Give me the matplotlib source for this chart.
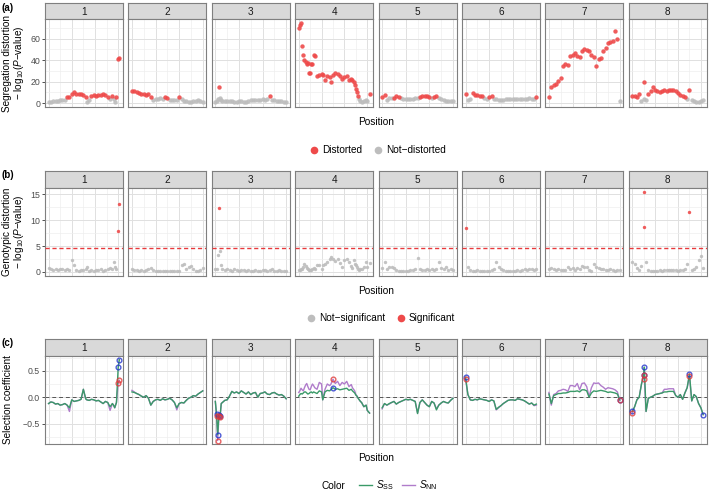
import matplotlib
matplotlib.use('Agg')
import numpy as np
import matplotlib.pyplot as plt
from matplotlib.lines import Line2D
from matplotlib.ticker import MultipleLocator

plt.rcParams['font.family'] = ['Liberation Sans', 'DejaVu Sans']
plt.rcParams['mathtext.fontset'] = 'custom'
plt.rcParams['mathtext.rm'] = 'Liberation Sans'
plt.rcParams['mathtext.it'] = 'Liberation Sans:italic'
plt.rcParams['mathtext.bf'] = 'Liberation Sans:bold'

# ---- data ----
chroms = [1, 2, 3, 4, 5, 6, 7, 8]

pos = {
    1: [0, 2, 4, 6, 8, 10, 12, 14, 16, 18, 20, 22, 24, 26, 28, 30, 32, 33, 35, 37, 39, 41, 43, 45, 47, 49, 51, 53, 55, 56, 57, 58.5, 60, 61],
    2: [0, 2, 4, 6, 8, 10, 12, 14, 16, 18, 20, 22, 24, 26, 28, 30, 32, 34, 36, 38, 40, 42, 44, 46, 48, 50, 52, 54, 56, 58, 60],
    3: [0, 1, 2, 3, 4, 5, 6, 8, 10, 12, 14, 16, 18, 20, 22, 24, 26, 28, 30, 32, 34, 36, 38, 40, 42, 44, 46, 48, 50, 52, 54, 56, 58, 60],
    4: [0, 1, 2, 3, 4, 5, 6, 7, 8, 9, 10, 11, 12, 13, 14, 16, 18, 20, 21, 23, 25, 27, 28, 30, 32, 34, 36, 38, 40, 42, 44, 46, 47, 48, 49, 50, 51, 52, 53, 54, 55, 57, 59, 60, 62],
    5: [0, 2, 4, 6, 8, 10, 12, 14, 16, 18, 20, 22, 24, 26, 28, 30, 32, 34, 36, 38, 40, 42, 44, 46, 48, 50, 52, 54, 56, 58, 60],
    6: [0, 2, 4, 6, 8, 10, 12, 14, 16, 18, 20, 22, 24, 26, 28, 30, 32, 34, 36, 38, 40, 42, 44, 46, 48, 50, 52, 54, 56, 58, 60],
    7: [0, 2, 4, 6, 8, 10, 12, 14, 16, 18, 20, 22, 24, 26, 28, 30, 32, 34, 36, 38, 40, 42, 44, 46, 48, 50, 52, 54, 56, 58, 60],
    8: [0, 2, 4, 6, 8, 10, 10.5, 12, 14, 16, 18, 20, 22, 24, 26, 28, 30, 32, 34, 36, 38, 40, 42, 44, 46, 48, 50, 52, 54, 56, 58, 60, 62],
}

# segregation distortion, -log10(P)
seg = {
    1: [1.0, 1.3, 1.6, 2.0, 2.3, 2.6, 2.8, 3.0, 5.2, 6.0, 8.5, 9.8, 8.6, 8.0, 8.3, 7.0, 5.5, 1.2, 2.5, 6.5, 7.0, 6.6, 7.2, 7.8, 8.2, 7.4, 6.0, 3.8, 6.2, 3.5, 0.5, 5.8, 41.0, 42.0],
    2: [10.8, 10.8, 10.0, 9.0, 8.3, 8.0, 7.4, 8.3, 5.9, 2.8, 3.5, 4.0, 4.2, 3.8, 5.2, 5.0, 3.0, 2.8, 3.2, 3.0, 5.9, 3.5, 1.5, 1.6, 1.4, 1.3, 1.5, 1.8, 2.4, 1.6, 1.2],
    3: [0.6, 2.0, 3.7, 14.5, 4.2, 3.0, 1.5, 2.0, 1.6, 2.2, 1.8, 1.2, 1.0, 1.5, 2.0, 1.4, 1.0, 1.8, 2.5, 2.8, 3.0, 2.6, 3.2, 3.4, 3.0, 3.5, 6.2, 3.0, 2.4, 2.0, 1.8, 1.5, 1.2, 1.0],
    4: [69.4, 72.5, 74.5, 53.0, 45.0, 40.0, 38.0, 36.7, 37.0, 28.4, 27.5, 36.0, 36.0, 44.7, 44.0, 25.4, 26.0, 27.0, 26.5, 21.3, 25.0, 24.0, 20.0, 25.8, 28.4, 27.0, 25.4, 22.5, 24.5, 25.0, 21.8, 22.5, 21.5, 19.1, 16.9, 12.9, 9.9, 6.8, 3.7, 1.5, 1.2, 1.5, 2.8, 1.5, 8.3],
    5: [5.9, 7.2, 3.0, 4.2, 4.5, 4.8, 6.8, 6.0, 4.5, 4.0, 3.8, 3.6, 3.8, 4.0, 4.2, 4.5, 6.0, 6.5, 6.3, 6.6, 5.5, 4.3, 5.2, 6.2, 4.3, 3.5, 2.8, 2.2, 1.8, 1.6, 1.5],
    6: [8.0, 2.8, 4.0, 9.0, 7.0, 7.5, 6.8, 6.5, 4.2, 3.5, 5.5, 6.5, 4.0, 3.5, 3.2, 3.0, 3.2, 3.4, 3.6, 3.8, 3.5, 3.7, 4.0, 3.6, 3.3, 3.5, 3.8, 4.2, 3.6, 4.0, 5.9],
    7: [5.2, 14.5, 16.5, 17.6, 20.5, 23.1, 34.5, 36.0, 35.5, 43.8, 44.7, 46.6, 43.5, 43.0, 48.5, 50.0, 49.5, 48.0, 45.0, 43.0, 34.5, 40.7, 41.5, 48.5, 50.9, 55.5, 56.5, 57.7, 66.9, 60.0, 1.5],
    8: [6.8, 6.5, 5.9, 8.3, 1.5, 20.0, 4.0, 2.8, 8.0, 11.0, 14.5, 12.5, 10.8, 9.9, 11.5, 12.0, 11.0, 12.5, 12.0, 12.0, 10.8, 9.0, 7.4, 6.2, 5.2, 3.5, 12.0, 2.5, 1.5, 1.0, 1.2, 1.8, 3.0],
}

# genotypic distortion, -log10(P)
geno = {
    1: [0.8, 0.6, 0.3, 0.5, 0.4, 0.6, 0.5, 0.3, 0.5, 0.4, 2.3, 1.3, 0.3, 0.2, 0.4, 0.3, 0.6, 1.0, 0.2, 0.3, 0.2, 0.4, 0.3, 0.5, 0.2, 0.4, 0.5, 0.8, 0.6, 2.0, 0.9, 0.5, 7.9, 13.2],
    2: [0.6, 0.4, 0.3, 0.2, 0.3, 0.2, 0.4, 0.5, 0.8, 0.3, 0.2, 0.1, 0.1, 0.1, 0.1, 0.1, 0.1, 0.1, 0.2, 0.1, 0.1, 1.4, 1.6, 0.6, 1.0, 1.1, 0.5, 0.2, 0.1, 0.3, 0.7],
    3: [0.5, 0.6, 3.3, 12.3, 4.0, 1.3, 0.6, 0.3, 0.5, 0.3, 0.2, 0.5, 0.4, 0.2, 0.3, 0.4, 0.2, 0.3, 0.1, 0.2, 0.3, 0.2, 0.1, 0.3, 0.4, 0.2, 0.3, 0.5, 0.2, 0.1, 0.3, 0.2, 0.1, 0.2],
    4: [0.3, 0.4, 0.5, 0.6, 1.0, 1.5, 1.2, 0.8, 0.5, 0.4, 0.3, 0.4, 0.6, 0.7, 0.5, 1.3, 1.4, 0.5, 1.3, 1.5, 2.0, 2.6, 2.9, 2.6, 2.2, 2.5, 1.8, 1.0, 2.3, 2.5, 1.9, 1.2, 0.8, 2.3, 1.6, 1.3, 1.0, 0.5, 0.4, 0.5, 0.6, 1.0, 1.9, 0.9, 1.8],
    5: [0.7, 1.9, 0.5, 0.9, 1.0, 0.8, 0.4, 0.2, 0.2, 0.1, 0.2, 0.2, 0.3, 0.4, 0.6, 2.7, 0.5, 0.3, 0.4, 0.6, 0.4, 0.5, 0.3, 0.5, 1.9, 0.8, 0.5, 0.9, 0.4, 0.6, 0.3],
    6: [8.4, 0.9, 0.3, 0.2, 0.2, 0.3, 0.2, 0.1, 0.2, 0.2, 0.2, 0.3, 0.5, 1.9, 1.0, 0.6, 0.4, 0.2, 0.1, 0.2, 0.2, 0.1, 0.3, 0.2, 0.3, 0.5, 0.4, 0.6, 0.5, 0.4, 0.6],
    7: [0.5, 0.8, 0.5, 0.4, 0.5, 0.3, 0.4, 0.4, 0.9, 0.5, 0.8, 0.4, 0.7, 0.6, 1.2, 1.0, 0.9, 0.3, 0.2, 1.6, 0.9, 0.8, 0.6, 0.5, 0.4, 0.3, 0.5, 0.3, 0.2, 0.4, 0.3],
    8: [1.9, 1.5, 0.7, 0.3, 1.1, 8.7, 15.5, 1.9, 0.4, 0.2, 0.1, 0.2, 0.2, 0.3, 0.2, 0.3, 0.4, 0.3, 0.3, 0.4, 0.3, 0.2, 0.4, 0.3, 0.6, 1.6, 11.6, 0.3, 0.5, 1.0, 2.4, 3.0, 0.8],
}

# selection coefficients
s_ss = {
    1: [-0.12, -0.09, -0.10, -0.13, -0.12, -0.15, -0.14, -0.12, -0.15, -0.20, -0.05, -0.08, -0.07, -0.06, -0.04, 0.15, -0.03, -0.05, -0.06, -0.04, -0.05, -0.07, -0.06, -0.09, -0.12, -0.08, -0.10, -0.18, -0.12, -0.15, -0.20, -0.10, 0.57, 0.71],
    2: [0.10, 0.09, 0.07, 0.05, 0.02, 0.00, 0.03, -0.02, -0.15, -0.08, -0.05, -0.04, -0.06, -0.03, -0.05, -0.04, -0.02, -0.05, -0.10, -0.20, -0.12, -0.10, -0.11, -0.06, -0.02, 0.00, 0.03, 0.02, 0.06, 0.09, 0.12],
    3: [-0.08, -0.32, -0.71, -0.34, -0.36, -0.12, -0.10, -0.06, -0.05, 0.02, 0.11, 0.08, 0.10, 0.07, 0.12, 0.09, 0.06, 0.10, 0.05, 0.08, 0.09, 0.00, 0.07, 0.08, 0.10, 0.06, 0.05, 0.08, 0.09, 0.06, 0.04, 0.05, 0.02, -0.03],
    4: [0.02, 0.05, 0.07, 0.06, 0.08, 0.10, 0.10, 0.08, 0.06, 0.07, 0.09, 0.10, 0.08, 0.10, 0.09, 0.07, 0.12, 0.10, -0.05, 0.10, 0.13, 0.12, 0.14, 0.18, 0.15, 0.16, 0.14, 0.15, 0.16, 0.17, 0.13, 0.15, 0.12, 0.10, 0.08, 0.04, 0.02, -0.02, -0.05, -0.08, -0.10, -0.18, -0.15, -0.25, -0.30],
    5: [-0.20, -0.12, -0.15, -0.12, -0.10, -0.08, -0.13, -0.10, -0.08, -0.06, -0.04, -0.05, -0.04, -0.06, -0.08, -0.31, -0.10, -0.05, -0.10, -0.15, -0.18, -0.08, -0.11, -0.24, -0.15, -0.11, -0.08, -0.10, -0.11, -0.06, -0.02],
    6: [0.38, 0.05, -0.05, -0.06, -0.04, -0.05, -0.03, -0.04, -0.05, -0.06, -0.08, -0.05, -0.07, -0.23, -0.19, -0.16, -0.12, -0.09, -0.06, -0.05, -0.05, -0.06, -0.03, -0.04, -0.05, -0.07, -0.10, -0.13, -0.11, -0.15, -0.13],
    7: [0.06, -0.12, 0.03, 0.05, 0.07, 0.07, 0.08, 0.08, 0.09, 0.11, 0.11, 0.11, 0.12, 0.10, 0.14, 0.14, 0.12, 0.00, 0.08, 0.12, 0.11, 0.12, 0.13, 0.12, 0.11, 0.09, 0.10, 0.09, 0.08, 0.06, -0.05],
    8: [-0.27, -0.18, -0.05, 0.00, 0.25, 0.42, 0.57, -0.27, -0.02, 0.00, 0.02, 0.05, 0.06, 0.07, 0.08, 0.10, 0.10, 0.11, 0.11, 0.11, 0.03, 0.00, 0.05, -0.04, 0.08, 0.18, 0.44, -0.07, 0.05, 0.01, -0.12, -0.20, -0.33],
}
s_nn = {
    1: [-0.12, -0.09, -0.10, -0.13, -0.12, -0.15, -0.14, -0.12, -0.15, -0.27, -0.05, -0.08, -0.07, -0.06, -0.04, 0.15, -0.03, -0.05, -0.06, -0.04, -0.05, -0.07, -0.06, -0.09, -0.12, -0.08, -0.10, -0.25, -0.12, -0.15, -0.20, -0.10, 0.27, 0.32],
    2: [0.13, 0.10, 0.07, 0.05, 0.02, 0.00, 0.03, -0.02, -0.15, -0.08, -0.05, -0.04, -0.06, -0.03, -0.05, -0.04, -0.02, -0.05, -0.10, -0.24, -0.12, -0.10, -0.11, -0.06, -0.02, 0.00, 0.03, 0.02, 0.06, 0.09, 0.12],
    3: [-0.08, -0.35, -0.82, -0.36, -0.38, -0.12, -0.10, -0.06, -0.05, 0.02, 0.11, 0.08, 0.10, 0.07, 0.12, 0.09, 0.06, 0.10, 0.05, 0.08, 0.09, 0.00, 0.07, 0.08, 0.10, 0.06, 0.05, 0.08, 0.09, 0.06, 0.04, 0.05, 0.02, -0.03],
    4: [0.09, 0.12, 0.17, 0.14, 0.12, 0.18, 0.23, 0.26, 0.20, 0.15, 0.14, 0.20, 0.25, 0.22, 0.18, 0.15, 0.28, 0.25, -0.05, 0.15, 0.25, 0.22, 0.24, 0.34, 0.26, 0.30, 0.22, 0.28, 0.25, 0.30, 0.20, 0.24, 0.18, 0.15, 0.12, 0.05, 0.02, -0.02, -0.05, -0.08, -0.10, -0.18, -0.15, -0.25, -0.30],
    5: [-0.22, -0.12, -0.15, -0.13, -0.10, -0.08, -0.13, -0.10, -0.08, -0.06, -0.04, -0.05, -0.04, -0.06, -0.08, -0.30, -0.10, -0.05, -0.10, -0.15, -0.18, -0.08, -0.11, -0.22, -0.15, -0.11, -0.08, -0.10, -0.11, -0.06, -0.02],
    6: [0.34, 0.05, -0.05, -0.06, -0.04, -0.05, -0.03, -0.04, -0.05, -0.06, -0.08, -0.05, -0.07, -0.24, -0.20, -0.16, -0.12, -0.09, -0.06, -0.05, -0.05, -0.06, -0.03, -0.04, -0.05, -0.07, -0.10, -0.13, -0.11, -0.16, -0.15],
    7: [0.09, -0.15, 0.05, 0.07, 0.12, 0.13, 0.15, 0.14, 0.11, 0.22, 0.22, 0.20, 0.26, 0.14, 0.26, 0.27, 0.20, 0.01, 0.18, 0.27, 0.26, 0.27, 0.22, 0.19, 0.15, 0.18, 0.17, 0.16, 0.14, 0.10, -0.06],
    8: [-0.29, -0.18, -0.05, 0.00, 0.25, 0.42, 0.35, -0.27, -0.02, 0.00, 0.02, 0.05, 0.06, 0.07, 0.08, 0.15, 0.15, 0.16, 0.16, 0.16, 0.03, 0.00, 0.05, -0.04, 0.08, 0.18, 0.41, -0.07, 0.05, 0.01, -0.12, -0.20, -0.33],
}

# markers circled in panel (c)
ring_ss = {1: [32, 33], 2: [], 3: [1, 2, 3, 4], 4: [23], 5: [], 6: [0], 7: [30], 8: [0, 5, 6, 26, 32]}
ring_nn = {1: [32, 33], 2: [], 3: [1, 2, 3, 4], 4: [23], 5: [], 6: [0], 7: [30], 8: [0, 5, 6, 26]}

cutoff = 4.57

# ---- style ----
red = '#EE4A4A'
grey = '#BDBDBD'
green = '#3A9A68'
purple = '#B07CCB'
border = '#7F7F7F'
W, H = 709, 493

fig = plt.figure(figsize=(W / 100, H / 100), dpi=100)


def box(x, top, w, h):
    return fig.add_axes([x / W, 1 - (top + h) / H, w / W, h / H])


pw, gap, left0 = 77.9, 5.5, 45
rows = [(3, 19, 107), (171, 187.7, 276), (339, 355.7, 444)]
ylims = [(-3.72, 78.22), (-0.775, 16.275), (-0.886, 0.786)]
ysteps = [20, 5, 0.5]

for r, (stop, sbot, abot) in enumerate(rows):
    for k, c in enumerate(chroms):
        x0 = left0 + k * (pw + gap)
        # strip
        sax = box(x0, stop, pw, sbot - stop)
        sax.set_facecolor('#D9D9D9')
        sax.set_xticks([])
        sax.set_yticks([])
        for sp in sax.spines.values():
            sp.set_color(border)
            sp.set_linewidth(0.8)
        sax.text(0.5, 0.45, str(c), ha='center', va='center', fontsize=7.2,
                 color='#1A1A1A', transform=sax.transAxes)

        ax = box(x0, sbot, pw, abot - sbot)
        x = np.array(pos[c])
        L = x.max()
        ax.set_xlim(-0.05 * L, 1.05 * L)
        ax.set_ylim(*ylims[r])
        ax.xaxis.set_major_locator(MultipleLocator(20))
        ax.xaxis.set_minor_locator(MultipleLocator(10))
        ax.yaxis.set_major_locator(MultipleLocator(ysteps[r]))
        ax.yaxis.set_minor_locator(MultipleLocator(ysteps[r] / 2))
        ax.grid(which='major', color='#E0E0E0', lw=0.7)
        ax.grid(which='minor', color='#EEEEEE', lw=0.5)
        ax.set_axisbelow(True)
        for sp in ax.spines.values():
            sp.set_color(border)
            sp.set_linewidth(0.8)
        ax.tick_params(which='both', bottom=False, labelbottom=False)
        ax.tick_params(which='minor', left=False)
        if k == 0:
            ax.tick_params(which='major', left=True, length=2, width=0.6,
                           color='#333333', labelsize=6.3, labelcolor='#4D4D4D', pad=1.5)
        else:
            ax.tick_params(which='major', left=False, labelleft=False)

        if r == 0:
            y = np.array(seg[c])
            hi = y > cutoff
            ax.scatter(x[~hi], y[~hi], s=10, color=grey, lw=0, alpha=0.9, zorder=3)
            ax.scatter(x[hi], y[hi], s=10, color=red, lw=0, alpha=0.9, zorder=3)
        elif r == 1:
            y = np.array(geno[c])
            hi = y > cutoff
            ax.scatter(x[~hi], y[~hi], s=6, color=grey, lw=0, alpha=0.9, zorder=3)
            ax.scatter(x[hi], y[hi], s=6, color=red, lw=0, alpha=0.9, zorder=3)
            ax.axhline(cutoff, color='#E8393C', lw=1.0, dashes=(3, 2), zorder=4)
        else:
            ax.axhline(0, color='#555555', lw=0.7, dashes=(4, 3), zorder=2)
            yn = np.array(s_nn[c])
            ys = np.array(s_ss[c])
            ax.plot(x, yn, color=purple, lw=1.0, zorder=3)
            ax.plot(x, ys, color=green, lw=1.0, zorder=4)
            i_s = ring_ss[c]
            i_n = ring_nn[c]
            ax.plot(x[i_s], ys[i_s], 'o', ms=3.4, mfc='none', mec='#2233CC',
                    mew=1.0, alpha=0.8, zorder=5)
            ax.plot(x[i_n], yn[i_n], 'o', ms=3.4, mfc='none', mec='#E03A3A',
                    mew=1.0, alpha=0.8, zorder=5)

# axis titles
cx = (left0 + 7 * (pw + gap) + pw / 2 + left0 + pw / 2) / 2 / W
for yy in [122, 290.5, 458]:
    fig.text(cx, 1 - yy / H, 'Position', ha='center', va='center', fontsize=7.3)

fig.text(14 / W, 1 - 63 / H, 'Segregation distortion\n\u2212 log$_{10}$($\\mathit{P}$\u2212value)',
         rotation=90, ha='center', va='center', fontsize=7.2, linespacing=1.0)
fig.text(14 / W, 1 - 232 / H, 'Genotypic distortion\n\u2212 log$_{10}$($\\mathit{P}$\u2212value)',
         rotation=90, ha='center', va='center', fontsize=7.2, linespacing=1.0)
fig.text(8 / W, 1 - 400 / H, 'Selection coefficient', rotation=90,
         ha='center', va='center', fontsize=7.2)

for lab, yy in [('(a)', 8), ('(b)', 175), ('(c)', 343)]:
    fig.text(2 / W, 1 - yy / H, lab, fontsize=7, fontweight='bold', va='center')

# legends
h_a = [Line2D([], [], ls='', marker='o', ms=5.5, color=red, mew=0),
       Line2D([], [], ls='', marker='o', ms=5.5, color=grey, mew=0)]
fig.legend(h_a, ['Distorted', 'Not\u2212distorted'], ncol=2, loc='center',
           bbox_to_anchor=(377 / W, 1 - 150 / H), frameon=False, fontsize=7.2,
           handletextpad=0.2, columnspacing=1.0, handlelength=1.2)

h_b = [Line2D([], [], ls='', marker='o', ms=5.5, color=grey, mew=0),
       Line2D([], [], ls='', marker='o', ms=5.5, color=red, mew=0)]
fig.legend(h_b, ['Not\u2212significant', 'Significant'], ncol=2, loc='center',
           bbox_to_anchor=(380 / W, 1 - 318 / H), frameon=False, fontsize=7.2,
           handletextpad=0.2, columnspacing=1.0, handlelength=1.2)

fig.text(322 / W, 1 - 486 / H, 'Color', fontsize=7.2, va='center')
h_c = [Line2D([], [], color=green, lw=1.0), Line2D([], [], color=purple, lw=1.0)]
fig.legend(h_c, ['$\\mathit{S}_{\\mathrm{SS}}$', '$\\mathit{S}_{\\mathrm{NN}}$'], ncol=2,
           loc='center left', bbox_to_anchor=(350 / W, 1 - 485 / H), frameon=False,
           fontsize=7.2, handletextpad=0.4, columnspacing=0.8, handlelength=1.3)

fig.savefig('out.png', dpi=100)
